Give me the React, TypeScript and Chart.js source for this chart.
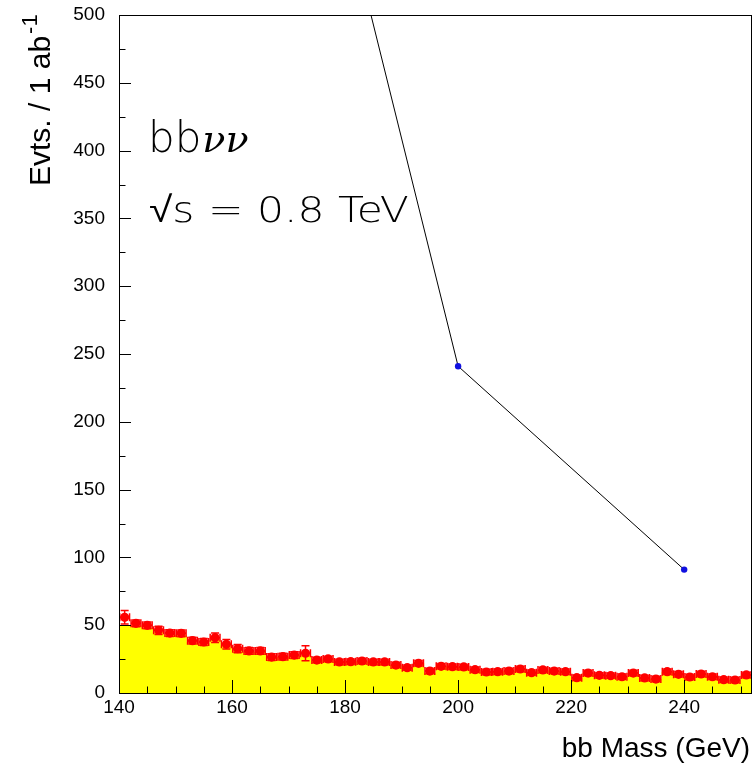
import React, { useEffect, useRef } from 'react';
import { Chart, registerables } from 'chart.js';

Chart.register(...registerables);

// ---- data ----
const binCenters = [
  141, 143, 145, 147, 149, 151, 153, 155, 157, 159,
  161, 163, 165, 167, 169, 171, 173, 175, 177, 179,
  181, 183, 185, 187, 189, 191, 193, 195, 197, 199,
  201, 203, 205, 207, 209, 211, 213, 215, 217, 219,
  221, 223, 225, 227, 229, 231, 233, 235, 237, 239,
  241, 243, 245, 247, 249, 251,
];
const binHalfWidth = 1;

const dataValues = [
  55.8, 51.4, 49.9, 46.2, 44.2, 44.0, 38.6, 37.6, 40.8, 35.9,
  32.7, 31.0, 31.0, 26.5, 26.8, 28.0, 29.3, 24.3, 25.1, 22.9,
  23.1, 23.6, 22.9, 22.9, 20.6, 18.7, 21.9, 16.2, 19.7, 19.4,
  19.2, 17.2, 15.5, 15.7, 16.2, 17.7, 15.0, 17.0, 16.2, 15.7,
  11.3, 14.7, 13.0, 12.8, 12.0, 14.7, 11.1, 10.3, 15.7, 13.8,
  11.8, 14.0, 12.0, 9.8, 9.6, 13.3,
];
const dataErrors = [
  5.0, 2.5, 2.5, 3.0, 2.5, 2.5, 2.5, 2.5, 3.5, 3.5,
  3.0, 2.5, 2.5, 2.5, 2.5, 2.5, 5.5, 2.0, 2.0, 2.0,
  2.0, 2.0, 2.0, 2.0, 2.0, 2.0, 2.0, 2.0, 2.0, 2.0,
  2.0, 2.0, 2.0, 2.0, 2.0, 2.0, 2.0, 2.0, 2.0, 2.0,
  2.0, 2.0, 2.0, 2.0, 2.0, 2.0, 2.0, 2.0, 2.0, 2.0,
  2.0, 2.0, 2.0, 2.0, 2.0, 2.0,
];
const bkgValues = [
  50.0, 50.0, 48.5, 45.0, 43.0, 43.0, 37.5, 36.5, 39.5, 35.0,
  32.0, 30.5, 30.5, 26.0, 26.5, 27.5, 28.0, 24.0, 25.0, 22.9,
  23.1, 23.6, 22.9, 22.9, 20.6, 18.7, 21.9, 15.0, 19.7, 19.4,
  19.2, 17.2, 15.5, 15.7, 16.2, 17.7, 15.0, 17.0, 16.2, 15.7,
  11.3, 14.7, 13.0, 12.8, 12.0, 14.7, 11.1, 10.3, 15.7, 13.8,
  11.8, 14.0, 12.0, 9.8, 9.6, 13.3,
];

const curveMass = [180, 200, 240];
const curveValues = [577, 241, 91];

const xMajorTicks = [140, 160, 180, 200, 220, 240];
const yMajorTicks = [0, 50, 100, 150, 200, 250, 300, 350, 400, 450, 500];
const xMin = 140;
const xMax = 252;
const yMin = 0;
const yMax = 500;
const xMinorStep = 5;
const yMinorStep = 25;

const xTitle = 'bb Mass (GeV)';
const yTitleMain = 'Evts. / 1 ab';
const yTitleSup = '-1';
const label1a = 'bb';
const label1b = 'νν';
const label2 = '√s = 0.8 TeV';

const W = 753;
const H = 765;

const noPad = (s: any) => {
  s.paddingTop = 0;
  s.paddingBottom = 0;
  s.paddingLeft = 0;
  s.paddingRight = 0;
};

const framePlugin = {
  id: 'rootFrame',
  beforeDatasetDraw(chart: any, args: any) {
    if (args.index !== 1) return;
    const { ctx } = chart;
    const xs = chart.scales.x;
    const ys = chart.scales.y;
    const area = chart.chartArea;
    ctx.save();
    ctx.beginPath();
    ctx.rect(area.left, area.top, area.right - area.left, area.bottom - area.top);
    ctx.clip();
    ctx.strokeStyle = '#ff0000';
    ctx.lineWidth = 1.5;
    const cap = 4;
    for (let i = 0; i < binCenters.length; i++) {
      const cx = xs.getPixelForValue(binCenters[i]);
      const xl = xs.getPixelForValue(binCenters[i] - binHalfWidth);
      const xr = xs.getPixelForValue(binCenters[i] + binHalfWidth);
      const cy = ys.getPixelForValue(dataValues[i]);
      const yt = ys.getPixelForValue(dataValues[i] + dataErrors[i]);
      const yb = ys.getPixelForValue(dataValues[i] - dataErrors[i]);
      ctx.beginPath();
      ctx.moveTo(xl, cy);
      ctx.lineTo(xr, cy);
      ctx.moveTo(xl + 0.75, cy - cap);
      ctx.lineTo(xl + 0.75, cy + cap);
      ctx.moveTo(xr - 0.75, cy - cap);
      ctx.lineTo(xr - 0.75, cy + cap);
      ctx.moveTo(cx, yt);
      ctx.lineTo(cx, yb);
      ctx.moveTo(cx - cap, yt);
      ctx.lineTo(cx + cap, yt);
      ctx.moveTo(cx - cap, yb);
      ctx.lineTo(cx + cap, yb);
      ctx.stroke();
    }
    ctx.restore();
  },
  afterDatasetsDraw(chart: any) {
    const { ctx } = chart;
    const xs = chart.scales.x;
    const ys = chart.scales.y;
    const a = chart.chartArea;
    ctx.save();
    ctx.strokeStyle = '#000';
    ctx.lineWidth = 1;
    ctx.beginPath();
    for (let v = xMin; v <= xMax + 1e-9; v += xMinorStep) {
      const px = Math.round(xs.getPixelForValue(v)) + 0.5;
      const major = xMajorTicks.indexOf(v) >= 0;
      const len = major ? 13 : 6.5;
      ctx.moveTo(px, a.bottom);
      ctx.lineTo(px, a.bottom - len);
    }
    for (let v = yMin; v <= yMax + 1e-9; v += yMinorStep) {
      const py = Math.round(ys.getPixelForValue(v)) + 0.5;
      const major = yMajorTicks.indexOf(v) >= 0;
      const len = major ? 12 : 6.5;
      ctx.moveTo(a.left, py);
      ctx.lineTo(a.left + len, py);
    }
    ctx.stroke();
    ctx.strokeRect(Math.round(a.left) + 0.5, Math.round(a.top) + 0.5,
      Math.round(a.right - a.left) - 1, Math.round(a.bottom - a.top));
    ctx.restore();
  },
  afterDraw(chart: any) {
    const { ctx } = chart;
    ctx.save();
    ctx.fillStyle = '#000';
    ctx.textBaseline = 'alphabetic';
    // y title
    ctx.save();
    ctx.translate(50, 186);
    ctx.rotate(-Math.PI / 2);
    ctx.textAlign = 'left';
    ctx.font = '30px "Liberation Sans", Arial, sans-serif';
    ctx.fillText(yTitleMain, 0, 0);
    const w = ctx.measureText(yTitleMain).width;
    ctx.font = '22px "Liberation Sans", Arial, sans-serif';
    ctx.fillText(yTitleSup, w + 2, -13);
    ctx.restore();
    // x title
    ctx.textAlign = 'right';
    ctx.font = '28px "Liberation Sans", Arial, sans-serif';
    ctx.fillText(xTitle, 750, 757);
    // annotation line 1
    ctx.textAlign = 'left';
    ctx.font = '200 42px "DejaVu Sans", sans-serif';
    ctx.fillText(label1a, 148, 152);
    const w1 = ctx.measureText(label1a).width;
    ctx.font = 'italic 38px "DejaVu Serif", serif';
    ctx.fillText(label1b, 148 + w1 + 1, 152);
    // annotation line 2 (wide, light)
    ctx.save();
    ctx.translate(149, 222);
    ctx.scale(1.18, 1);
    ctx.font = '200 36px "DejaVu Sans", sans-serif';
    ctx.fillText(label2, 0, 0);
    ctx.restore();
    ctx.restore();
  },
};

export default function App() {
  const ref = useRef<HTMLCanvasElement | null>(null);

  useEffect(() => {
    const canvas = ref.current;
    if (!canvas) return;
    const histPoints = binCenters.map((c, i) => ({ x: c - binHalfWidth, y: bkgValues[i] }));
    histPoints.push({
      x: binCenters[binCenters.length - 1] + binHalfWidth,
      y: bkgValues[bkgValues.length - 1],
    });
    const dataPoints = binCenters.map((c, i) => ({ x: c, y: dataValues[i] }));
    const curvePoints = curveMass.map((m, i) => ({ x: m, y: curveValues[i] }));

    const chart = new Chart(canvas, {
      type: 'line',
      data: {
        datasets: [
          {
            type: 'line',
            data: histPoints,
            stepped: true,
            fill: 'origin',
            backgroundColor: '#ffff00',
            borderColor: '#ffff00',
            borderWidth: 0,
            pointRadius: 0,
            order: 3,
          },
          {
            type: 'scatter',
            data: dataPoints,
            showLine: false,
            pointRadius: 4.6,
            pointBackgroundColor: '#ff0000',
            pointBorderColor: '#ff0000',
            pointBorderWidth: 0,
            order: 2,
          },
          {
            type: 'line',
            data: curvePoints,
            borderColor: '#000000',
            borderWidth: 1,
            fill: false,
            pointRadius: (c: any) => (curveValues[c.dataIndex] > yMax ? 0 : 3.2),
            pointBackgroundColor: '#1010e0',
            pointBorderColor: '#1010e0',
            pointBorderWidth: 0,
            order: 1,
          },
        ] as any,
      },
      options: {
        responsive: false,
        animation: false,
        devicePixelRatio: 1,
        layout: { autoPadding: false, padding: { top: 15, right: 1, left: 0, bottom: 0 } },
        plugins: {
          legend: { display: false },
          tooltip: { enabled: false },
        },
        scales: {
          x: {
            type: 'linear',
            min: xMin,
            max: xMax,
            grid: { display: false, drawTicks: false },
            border: { display: false },
            afterBuildTicks: (s: any) => {
              s.ticks = xMajorTicks.map((v) => ({ value: v }));
            },
            afterFit: (s: any) => {
              s.height = 72;
              noPad(s);
            },
            ticks: {
              padding: 3,
              color: '#000',
              maxRotation: 0,
              font: { family: '"Liberation Sans", Arial, sans-serif', size: 19 },
            },
          },
          y: {
            type: 'linear',
            min: yMin,
            max: yMax,
            grid: { display: false, drawTicks: false },
            border: { display: false },
            afterBuildTicks: (s: any) => {
              s.ticks = yMajorTicks.map((v) => ({ value: v }));
            },
            afterFit: (s: any) => {
              s.width = 119;
              noPad(s);
            },
            ticks: {
              padding: 14,
              color: '#000',
              font: { family: '"Liberation Sans", Arial, sans-serif', size: 19 },
            },
          },
        },
      } as any,
      plugins: [framePlugin],
    });
    return () => chart.destroy();
  }, []);

  return (
    <div style={{ position: 'absolute', left: 0, top: 0, width: W, height: H, background: '#fff' }}>
      <canvas ref={ref} width={W} height={H} style={{ width: W, height: H, display: 'block' }} />
    </div>
  );
}
